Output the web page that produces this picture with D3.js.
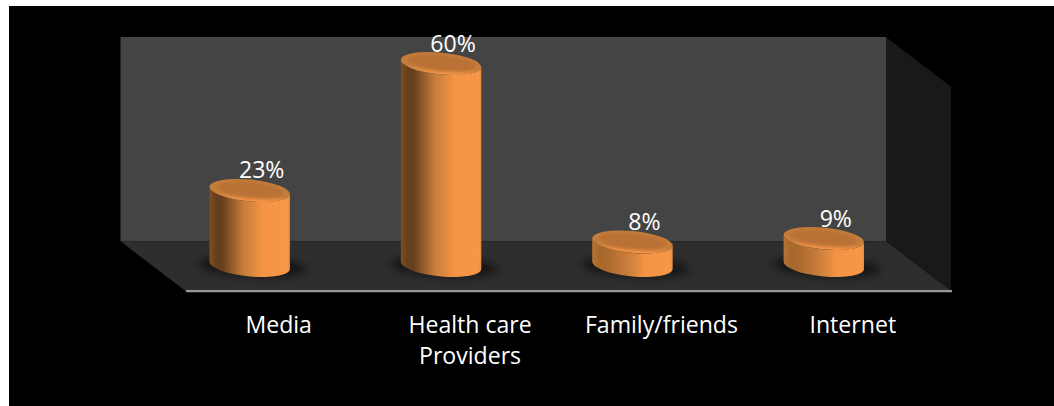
<!DOCTYPE html>
<html>
<head>
<meta charset="utf-8">
<style>
  html, body { margin: 0; padding: 0; background: #fff; }
  svg { display: block; }
  text { font-family: "Open Sans", sans-serif; fill: #fff; }
</style>
<script src="https://cdn.jsdelivr.net/npm/d3@7/dist/d3.min.js"></script>
</head>
<body>
<script>
// Where respondents get their information, share of answers in percent.
const categories = ["Media", "Health care\nProviders", "Family/friends", "Internet"];
const shares = [23, 60, 8, 9];

const width = 1054, height = 406;
const wall = { x0: 120.5, x1: 886, top: 37, floor: 241.3 };
const depth = { x: 65, y: 49.7 };
const baseY = 265.5;        // centre of each cylinder's footprint on the floor
const fontSize = 23.1;

const svg = d3.select("body").append("svg").attr("width", width).attr("height", height);
const defs = svg.append("defs");

const x = d3.scaleBand().domain(categories).range([0, wall.x1 - wall.x0]);
const y = d3.scaleLinear().domain([0, 60]).range([269.4, 63.5]);
const cx = c => wall.x0 + 33.5 + x(c) + x.bandwidth() / 2;

// Tilted ellipse used for the cylinder caps and footprints.
const ellipse = { a: 40.4, b: 10.9, deg: 5.6 };
const th = ellipse.deg * Math.PI / 180;
const halfW = Math.hypot(ellipse.a * Math.cos(th), ellipse.b * Math.sin(th));
const sideDy = (ellipse.a ** 2 - ellipse.b ** 2) * Math.sin(th) * Math.cos(th) / halfW;
const arc = (sweep, tx, ty) => `A${ellipse.a},${ellipse.b} ${ellipse.deg} 0 ${sweep} ${tx},${ty}`;

// Body shading: dark toward the left, full orange past two thirds of the width.
// Short cylinders catch more light on their dark side.
const addGradient = (id, dark, edge) => {
  const g = defs.append("linearGradient").attr("id", id);
  [[0, edge], [0.08, dark], [0.16, dark], [0.42, "#c67c3b"], [0.66, "#f39444"], [0.97, "#f79646"], [1, "#e48c42"]]
    .forEach(([o, c]) => g.append("stop").attr("offset", o).attr("stop-color", c));
};
addGradient("bodyTall", "#66401e", "#7e4f25");
addGradient("bodyShort", "#a8682c", "#b87434");

const capGrad = defs.append("linearGradient").attr("id", "cap")
  .attr("x1", 0).attr("y1", 0).attr("x2", 0.1).attr("y2", 1);
[[0, "#c27b3a"], [0.72, "#c67e3b"], [0.93, "#e88d42"], [1, "#f59545"]]
  .forEach(([o, c]) => capGrad.append("stop").attr("offset", o).attr("stop-color", c));

defs.append("filter").attr("id", "soft")
  .attr("x", "-30%").attr("y", "-60%").attr("width", "160%").attr("height", "220%")
  .append("feGaussianBlur").attr("stdDeviation", 4.5);
defs.append("filter").attr("id", "bevel")
  .attr("x", "-10%").attr("y", "-30%").attr("width", "120%").attr("height", "160%")
  .append("feGaussianBlur").attr("stdDeviation", 1.8);

// Page backdrop
svg.append("rect").attr("x", 9).attr("y", 6).attr("width", width - 9).attr("height", height - 6).attr("fill", "#000");

// Box: back wall, side wall, floor
const poly = (pts, fill) => svg.append("polygon").attr("points", pts.map(p => p.join(",")).join(" ")).attr("fill", fill);
poly([[wall.x0, wall.top], [wall.x1, wall.top], [wall.x1, wall.floor], [wall.x0, wall.floor]], "#444444");
poly([[wall.x1, wall.top], [wall.x1 + depth.x, wall.top + depth.y], [wall.x1 + depth.x, wall.floor + depth.y], [wall.x1, wall.floor]], "#191919");
poly([[wall.x0, wall.floor], [wall.x1, wall.floor], [wall.x1 + depth.x, wall.floor + depth.y], [wall.x0 + depth.x, wall.floor + depth.y]], "#2e2e2e");

// Category axis along the front edge of the floor
const axis = svg.append("g")
  .attr("transform", `translate(${wall.x0 + depth.x},${wall.floor + depth.y + 0.2})`)
  .call(d3.axisBottom(x).tickSize(0).tickPadding(0));
axis.select(".domain").attr("stroke", "#999").attr("stroke-width", 2.2).attr("d", "M0.5,0H766.5");
axis.selectAll(".tick text").each(function (d) {
  const t = d3.select(this).text(null).attr("y", 0).attr("dy", null)
    .attr("font-size", fontSize).attr("font-family", "'Open Sans', sans-serif");
  d.split("\n").forEach((line, i) => {
    t.append("tspan").attr("x", -2.5).attr("y", 41.5 + i * 31.6).text(line);
  });
});

// Cylinders
const bars = svg.append("g").selectAll("g").data(categories.map((c, i) => ({ c, v: shares[i] }))).join("g");

bars.append("ellipse")
  .attr("cx", d => cx(d.c) + 3).attr("cy", baseY + 1)
  .attr("rx", 54).attr("ry", 10)
  .attr("transform", d => `rotate(3 ${cx(d.c)} ${baseY})`)
  .attr("fill", "#000").attr("opacity", 0.55).attr("filter", "url(#soft)");

bars.append("path")
  .attr("fill", d => d.v < 15 ? "url(#bodyShort)" : "url(#bodyTall)")
  .attr("d", d => {
    const c = cx(d.c), t = y(d.v);
    return `M${c - halfW},${t - sideDy}L${c - halfW},${baseY - sideDy}` +
      arc(0, c + halfW, baseY + sideDy) +
      `L${c + halfW},${t + sideDy}` +
      arc(1, c - halfW, t - sideDy) + "Z";
  });

bars.append("ellipse")
  .attr("cx", d => cx(d.c)).attr("cy", d => y(d.v))
  .attr("rx", ellipse.a).attr("ry", ellipse.b)
  .attr("transform", d => `rotate(${ellipse.deg} ${cx(d.c)} ${y(d.v)})`)
  .attr("fill", "url(#cap)");

bars.append("ellipse")
  .attr("cx", d => cx(d.c)).attr("cy", d => y(d.v) - 0.5)
  .attr("rx", ellipse.a * 0.84).attr("ry", ellipse.b * 0.68)
  .attr("transform", d => `rotate(${ellipse.deg} ${cx(d.c)} ${y(d.v)})`)
  .attr("fill", "#b97134").attr("filter", "url(#bevel)");

// Value labels above each cylinder
bars.append("text")
  .attr("x", d => cx(d.c) + 12).attr("y", d => y(d.v) - 12)
  .attr("text-anchor", "middle").attr("font-size", fontSize)
  .text(d => d.v + "%");
</script>
</body>
</html>
